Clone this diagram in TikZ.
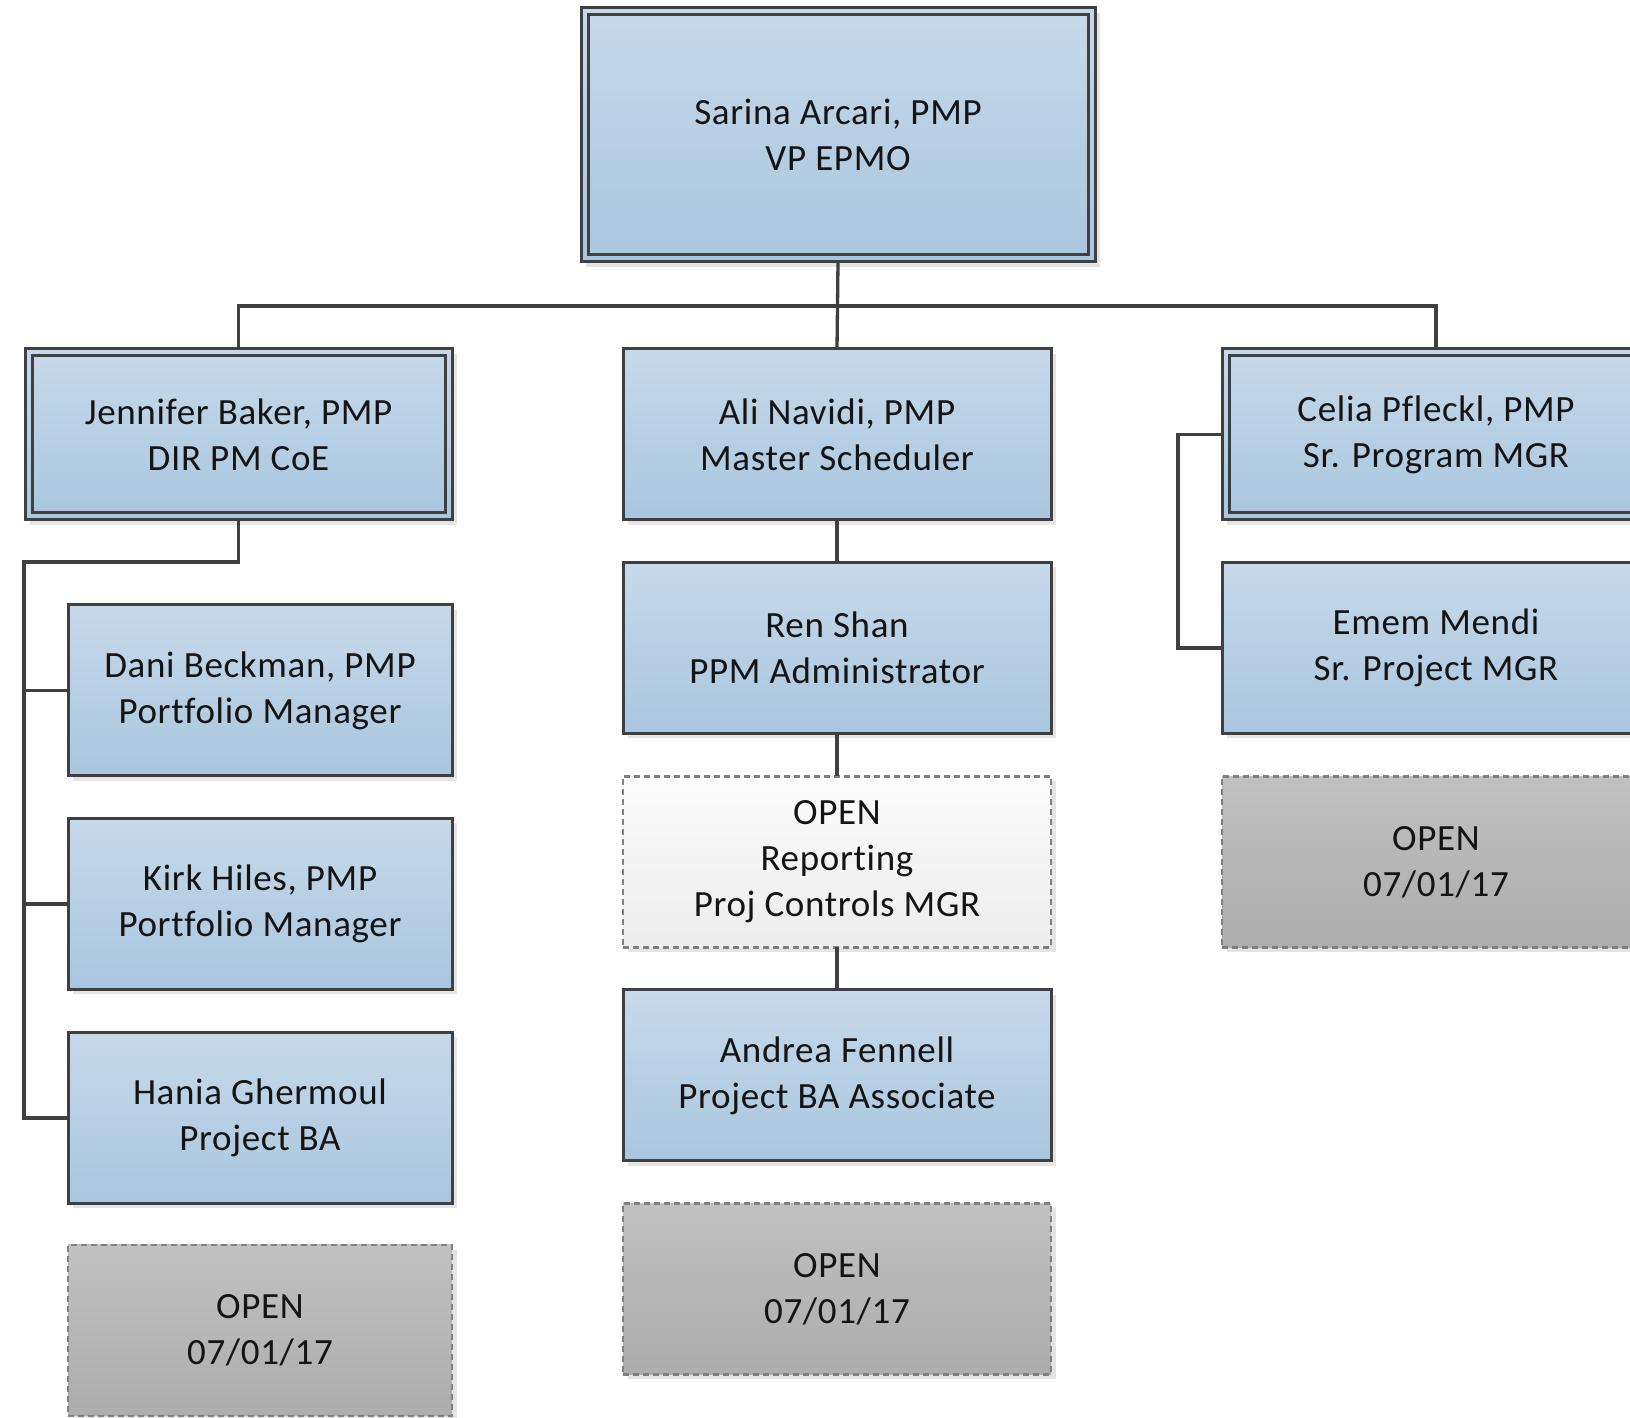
\documentclass[tikz,border=0pt]{standalone}
\usepackage{fontspec}
\setmainfont{Carlito}[Ligatures=NoCommon, LetterSpace=1.8]
\usetikzlibrary{shadows}
\definecolor{bluetop}{RGB}{198,217,234}
\definecolor{bluebot}{RGB}{169,198,223}
\definecolor{edgec}{RGB}{64,64,64}
\definecolor{graytop}{RGB}{193,193,193}
\definecolor{graybot}{RGB}{172,172,172}
\definecolor{whitetop}{RGB}{252,252,252}
\definecolor{whitebot}{RGB}{236,236,236}
\definecolor{shadowc}{RGB}{228,228,228}
\definecolor{dashc}{RGB}{128,128,128}
\definecolor{textc}{RGB}{20,20,20}
\tikzset{
  x=1pt, y=1pt,
  base/.style={rectangle, inner sep=0pt, outer sep=0pt, align=center,
    font=\fontsize{37}{46}\selectfont, text=textc,
    general shadow={fill=shadowc, shadow xshift=5pt, shadow yshift=-5pt}},
  bluebox/.style={base, draw=edgec, line width=3pt, top color=bluetop, bottom color=bluebot,
    minimum width=428, minimum height=171},
  leftbox/.style={bluebox, minimum width=384},
  openbox/.style={base, draw=dashc, line width=2.5pt, dash pattern=on 6pt off 4pt,
    top color=graytop, bottom color=graybot, minimum width=428, minimum height=171},
  openwhite/.style={openbox, top color=whitetop, bottom color=whitebot},
  inner/.style={draw=edgec, line width=3pt},
  conn/.style={draw=edgec, line width=3.3pt},
}
\begin{document}
\begin{tikzpicture}
\useasboundingbox (0,0) rectangle (1630,1418);
\clip (0,0) rectangle (1630,1418);
\fill[white] (0,0) rectangle (1630,1418);

% top
\node[bluebox, minimum width=514, minimum height=254] (vp) at (838,1283) {Sarina Arcari, PMP\\VP EPMO};
\draw[inner] ([xshift=7pt,yshift=7pt]vp.south west) rectangle ([xshift=-7pt,yshift=-7pt]vp.north east);

% row 2
\node[bluebox, minimum width=427] (jen) at (238.5,983.5) {Jennifer Baker, PMP\\DIR PM CoE};
\draw[inner] ([xshift=7pt,yshift=7pt]jen.south west) rectangle ([xshift=-7pt,yshift=-7pt]jen.north east);
\node[bluebox] (ali) at (837,983.5) {Ali Navidi, PMP\\Master Scheduler};
\node[bluebox] (cel) at (1436,983.5) {Celia Pfleckl, PMP\\Sr. Program MGR};
\draw[inner] ([xshift=7pt,yshift=7pt]cel.south west) rectangle ([xshift=-7pt,yshift=-7pt]cel.north east);

% centre column
\node[bluebox] (ren) at (837,770) {Ren Shan\\PPM Administrator};
\node[openwhite] (openrep) at (837,556) {OPEN\\Reporting\\Proj Controls MGR};
\node[bluebox] (andrea) at (837,342.5) {Andrea Fennell\\Project BA Associate};
\node[openbox] (openmid) at (837,129) {OPEN\\07/01/17};

% left column
\node[leftbox] (dani) at (260,727.5) {Dani Beckman, PMP\\Portfolio Manager};
\node[leftbox] (kirk) at (260,514) {Kirk Hiles, PMP\\Portfolio Manager};
\node[leftbox] (hania) at (260,300) {Hania Ghermoul\\Project BA};
\node[openbox, minimum width=384] (openleft) at (260,87.5) {OPEN\\07/01/17};

% right column
\node[bluebox] (emem) at (1436,770) {Emem Mendi\\Sr. Project MGR};
\node[openbox] (openright) at (1436,556) {OPEN\\07/01/17};

% connectors
\draw[conn] (vp.south) -- (ali.north);
\draw[conn] (jen.north) |- ([yshift=-44pt]vp.south) -| (cel.north);
\coordinate (lbus) at (24,856);
\draw[conn] (jen.south) |- (lbus) |- (hania.west);
\draw[conn] (lbus |- dani.west) -- (dani.west);
\draw[conn] (lbus |- kirk.west) -- (kirk.west);
\draw[conn] (cel.west) -- ++(-44,0) |- (emem.west);
\draw[conn] (ali.south) -- (ren.north);
\draw[conn] (ren.south) -- (openrep.north);
\draw[conn] (openrep.south) -- (andrea.north);
\end{tikzpicture}
\end{document}
